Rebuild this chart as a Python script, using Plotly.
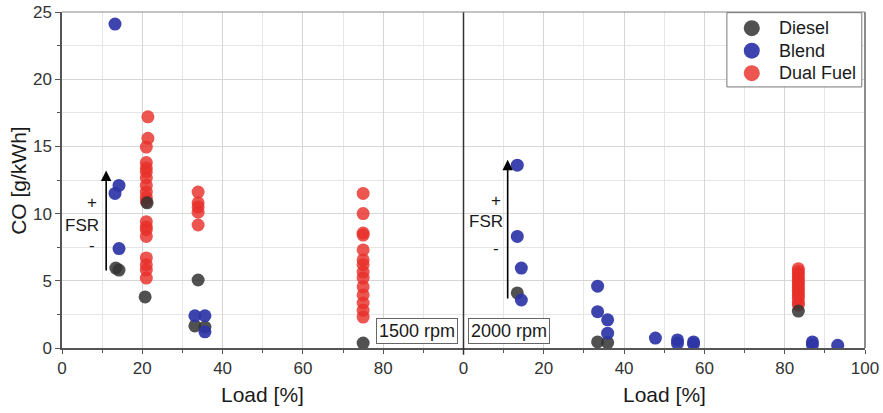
import plotly.graph_objects as go
from plotly.subplots import make_subplots

# ---- data ----
# 1500 rpm panel (left)
diesel_l_x = [13.4, 14.2, 21.2, 20.7, 33.9, 33.1, 35.6, 75.0]
diesel_l_y = [5.95, 5.8, 10.8, 3.8, 5.06, 1.64, 1.56, 0.37]
blend_l_x = [13.2, 14.2, 13.2, 14.2, 33.1, 35.6, 35.6]
blend_l_y = [24.1, 12.1, 11.5, 7.4, 2.4, 2.4, 1.2]
dual_l_x = [21.4, 21.4, 21.0, 21.0, 21.0, 21.0, 21.0, 21.0, 21.0, 21.0, 21.0,
            21.0, 21.0, 21.0, 21.0, 21.0, 21.0, 21.0, 21.0,
            33.9, 33.9, 33.9, 33.9, 33.9,
            75.0, 75.0, 75.0, 75.0, 75.0, 75.0, 75.0, 75.0, 75.0, 75.0, 75.0, 75.0, 75.0, 75.0]
dual_l_y = [17.2, 15.6, 14.95, 13.8, 13.4, 13.1, 12.65, 12.1, 11.6, 11.2, 10.9,
            9.4, 9.0, 8.8, 8.3, 6.7, 6.2, 5.8, 5.2,
            11.6, 10.8, 10.5, 10.1, 9.15,
            11.5, 10.0, 8.55, 8.4, 7.3, 6.55, 6.2, 5.65, 5.2, 4.55, 3.95, 3.35, 2.8, 2.3]

# 2000 rpm panel (right)
diesel_r_x = [13.4, 33.4, 35.9, 83.4]
diesel_r_y = [4.1, 0.45, 0.4, 2.75]
blend_r_x = [13.4, 13.4, 14.4, 14.4, 33.4, 33.4, 35.9, 35.9, 47.8, 53.3, 53.3, 57.3, 57.3, 86.9, 86.9, 93.2]
blend_r_y = [13.6, 8.3, 5.95, 3.57, 4.6, 2.7, 2.1, 1.1, 0.74, 0.6, 0.35, 0.45, 0.3, 0.45, 0.25, 0.2]
dual_r_x = [83.4] * 14
dual_r_y = [5.9, 5.7, 5.5, 5.3, 5.1, 4.9, 4.7, 4.5, 4.3, 4.1, 3.9, 3.7, 3.4, 3.2]

x_ticks_left = [0, 20, 40, 60, 80]
x_ticks_right = [0, 20, 40, 60, 80, 100]
y_ticks = [0, 5, 10, 15, 20, 25]
legend_names = ["Diesel", "Blend", "Dual Fuel"]

colors = {"Diesel": "#333333", "Blend": "#2d34a6", "Dual Fuel": "#e8302a"}
opac = {"Diesel": 0.85, "Blend": 0.92, "Dual Fuel": 0.82}

FONT = "Liberation Sans, Arial, sans-serif"
TXT = "#1a1a1a"

fig = make_subplots(rows=1, cols=2, shared_yaxes=True, horizontal_spacing=0)

def add(name, x, y, col):
    fig.add_trace(go.Scatter(
        x=x, y=y, mode="markers", name=name, showlegend=False,
        marker=dict(size=13, color=colors[name], opacity=opac[name], line=dict(width=0)),
    ), row=1, col=col)

# draw order: Dual Fuel, Diesel, Blend
add("Dual Fuel", dual_l_x, dual_l_y, 1)
add("Dual Fuel", dual_r_x, dual_r_y, 2)
add("Diesel", diesel_l_x, diesel_l_y, 1)
add("Diesel", diesel_r_x, diesel_r_y, 2)
add("Blend", blend_l_x, blend_l_y, 1)
add("Blend", blend_r_x, blend_r_y, 2)

grid_major = "#d6d6d6"
grid_minor = "#e6e6e6"
axis_col = "#555555"

xcommon = dict(
    range=[0, 100], showgrid=True, gridcolor=grid_major, gridwidth=1,
    ticks="outside", ticklen=4, tickcolor=axis_col, tickwidth=1,
    showline=True, linecolor=axis_col, linewidth=1.5,
    tickfont=dict(family=FONT, size=17, color="#333333"),
    zeroline=False, automargin=False,
    minor=dict(dtick=10, tick0=0, ticks="outside", ticklen=3, tickcolor=axis_col,
               showgrid=True, gridcolor=grid_minor, gridwidth=1),
)
fig.update_xaxes(tickvals=x_ticks_left, **xcommon, row=1, col=1)
fig.update_xaxes(tickvals=x_ticks_right, **xcommon, row=1, col=2)

fig.update_yaxes(
    range=[0, 25], tickvals=y_ticks, showgrid=True, gridcolor=grid_major,
    zeroline=False, automargin=False,
    minor=dict(dtick=2.5, tick0=0, showgrid=True, gridcolor=grid_minor, gridwidth=1),
)
fig.update_yaxes(
    ticks="outside", ticklen=5, tickcolor=axis_col,
    showline=True, linecolor=axis_col, linewidth=1.5,
    tickfont=dict(family=FONT, size=17, color="#333333"),
    minor=dict(ticks="outside", ticklen=3, tickcolor=axis_col),
    row=1, col=1,
)
fig.update_yaxes(ticks="", showticklabels=False, row=1, col=2)

# axis titles
for xc in (0.25, 0.75):
    fig.add_annotation(x=xc, y=-0.137, xref="paper", yref="paper", text="Load [%]",
                       showarrow=False, xanchor="center", yanchor="middle",
                       font=dict(family=FONT, size=21, color=TXT))
fig.add_annotation(x=-0.055, y=0.5, xref="paper", yref="paper", text="CO [g/kWh]",
                   showarrow=False, textangle=-90, xanchor="center", yanchor="middle",
                   font=dict(family=FONT, size=21, color=TXT))

# frame lines: separator, right border, top border
fig.add_shape(type="line", xref="paper", yref="paper", x0=0.5, x1=0.5, y0=-0.02, y1=1,
              line=dict(color="#333333", width=1.5))
fig.add_shape(type="line", xref="paper", yref="paper", x0=1, x1=1, y0=0, y1=1,
              line=dict(color="#666666", width=1.5))
fig.add_shape(type="line", xref="paper", yref="paper", x0=0, x1=1, y0=1, y1=1,
              line=dict(color="#888888", width=1.2))

# custom legend box
fig.add_shape(type="rect", xref="paper", yref="paper", x0=0.828, x1=0.996, y0=0.777, y1=0.998,
              line=dict(color="#777777", width=1), fillcolor="white", layer="above")
for i, name in enumerate(legend_names):
    ly = 0.952 - i * 0.067
    fig.add_shape(type="circle", xref="paper", yref="paper", xsizemode="pixel", ysizemode="pixel",
                  xanchor=0.859, yanchor=ly, x0=-8, x1=8, y0=-8, y1=8,
                  fillcolor=colors[name], opacity=opac[name], line=dict(width=0), layer="above")
    fig.add_annotation(x=0.891, y=ly, xref="paper", yref="paper", text=name, showarrow=False,
                       xanchor="left", yanchor="middle", font=dict(family=FONT, size=18, color=TXT))

# rpm labels
fig.add_annotation(x=98.7, y=0.3, xref="x", yref="y", text="1500 rpm", showarrow=False,
                   xanchor="right", yanchor="bottom", font=dict(family=FONT, size=18, color=TXT),
                   bgcolor="white", bordercolor="#666666", borderwidth=1, borderpad=2)
fig.add_annotation(x=1.0, y=0.3, xref="x2", yref="y", text="2000 rpm", showarrow=False,
                   xanchor="left", yanchor="bottom", font=dict(family=FONT, size=18, color=TXT),
                   bgcolor="white", bordercolor="#666666", borderwidth=1, borderpad=2)

# FSR arrows
for xr, xa, y0, y1, plus_y, fsr_y, minus_y, tx, fx in [
    ("x", 11.0, 5.65, 13.2, 10.8, 9.15, 7.6, 7.5, 5.0),
    ("x2", 11.0, 3.57, 14.0, 11.0, 9.4, 7.4, 8.2, 5.5),
]:
    fig.add_annotation(x=xa, y=y1, ax=xa, ay=y0, xref=xr, yref="y", axref=xr, ayref="y",
                       text="", showarrow=True, arrowhead=2, arrowsize=1.3, arrowwidth=1.6,
                       arrowcolor="#000000")
    fig.add_annotation(x=tx, y=plus_y, xref=xr, yref="y", text="+", showarrow=False,
                       font=dict(family=FONT, size=17, color=TXT))
    fig.add_annotation(x=fx, y=fsr_y, xref=xr, yref="y", text="FSR", showarrow=False,
                       font=dict(family=FONT, size=17, color=TXT))
    fig.add_annotation(x=tx, y=minus_y, xref=xr, yref="y", text="-", showarrow=False,
                       font=dict(family=FONT, size=17, color=TXT))

fig.update_layout(
    width=883, height=413,
    margin=dict(l=62, r=18, t=12, b=65, autoexpand=False),
    plot_bgcolor="white", paper_bgcolor="white",
    font=dict(family=FONT, size=17, color=TXT),
    showlegend=False,
)

fig.write_html("out.html", config={"displayModeBar": False},
               post_script="document.body.style.margin='0';document.body.style.overflow='hidden';")
